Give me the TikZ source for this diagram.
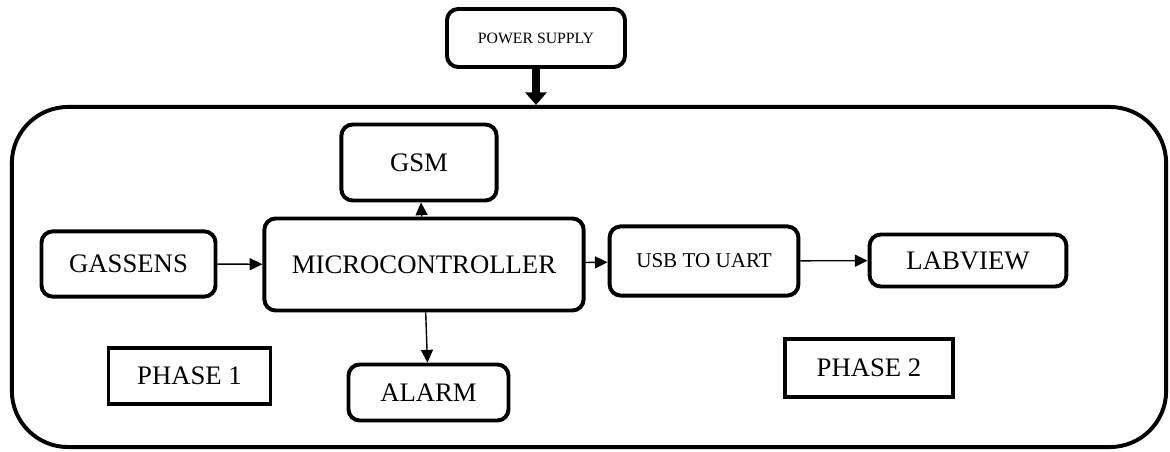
\documentclass[tikz,border=0pt]{standalone}
\usepackage{fontspec}
\setmainfont{Liberation Serif}
\usetikzlibrary{arrows.meta}

\begin{document}
\begin{tikzpicture}[x=0.025cm, y=-0.025cm,
  block/.style={draw, line width=2.8pt, rounded corners=8pt, inner sep=0pt,
    font=\fontsize{19}{22}\selectfont},
  phasebox/.style={draw, line width=2.8pt, inner sep=0pt,
    font=\fontsize{19}{22}\selectfont},
  link/.style={line width=1pt, -{Triangle[length=9pt,width=8.5pt]}}]
  \useasboundingbox (0,0) rectangle (1170,452);
  \node[draw, line width=2.8pt, rounded corners=40pt, minimum width=28.85cm, minimum height=8.5cm] (board) at (589,277) {};
  \node[block, minimum width=4.45cm, minimum height=1.45cm, font=\fontsize{11.2}{13}\selectfont] (power) at (536,38) {POWER SUPPLY};
  \node[block, minimum width=3.88cm, minimum height=1.9cm] (gsm) at (419,162.5) {GSM};
  \node[block, minimum width=7.98cm, minimum height=2.3cm] (micro) at (424,264.5) {MICROCONTROLLER};
  \node[block, minimum width=4.35cm, minimum height=1.63cm] (gas) at (128.5,264) {GASSENS};
  \node[block, minimum width=4.72cm, minimum height=1.73cm, font=\fontsize{15}{17}\selectfont] (usb) at (704,261) {USB TO UART};
  \node[block, minimum width=4.92cm, minimum height=1.3cm] (labview) at (968,260.5) {LABVIEW};
  \node[block, minimum width=4cm, minimum height=1.4cm] (alarm) at (428.5,392.5) {ALARM};
  \node[phasebox, minimum width=4.05cm, minimum height=1.38cm] (phase1) at (189.5,376) {PHASE 1};
  \node[phasebox, minimum width=4.22cm, minimum height=1.43cm] (phase2) at (869,368) {PHASE 2};
  \draw[line width=5.5pt, -{Triangle[length=9pt,width=15pt]}] (power.south) -- (power.south |- board.north);
  \draw[link] (gas) -- (micro);
  \draw[link] (micro) -- (gsm);
  \draw[link] (micro) -- (alarm);
  \draw[link] (micro) -- (usb);
  \draw[link] (usb) -- (labview);
\end{tikzpicture}
\end{document}
